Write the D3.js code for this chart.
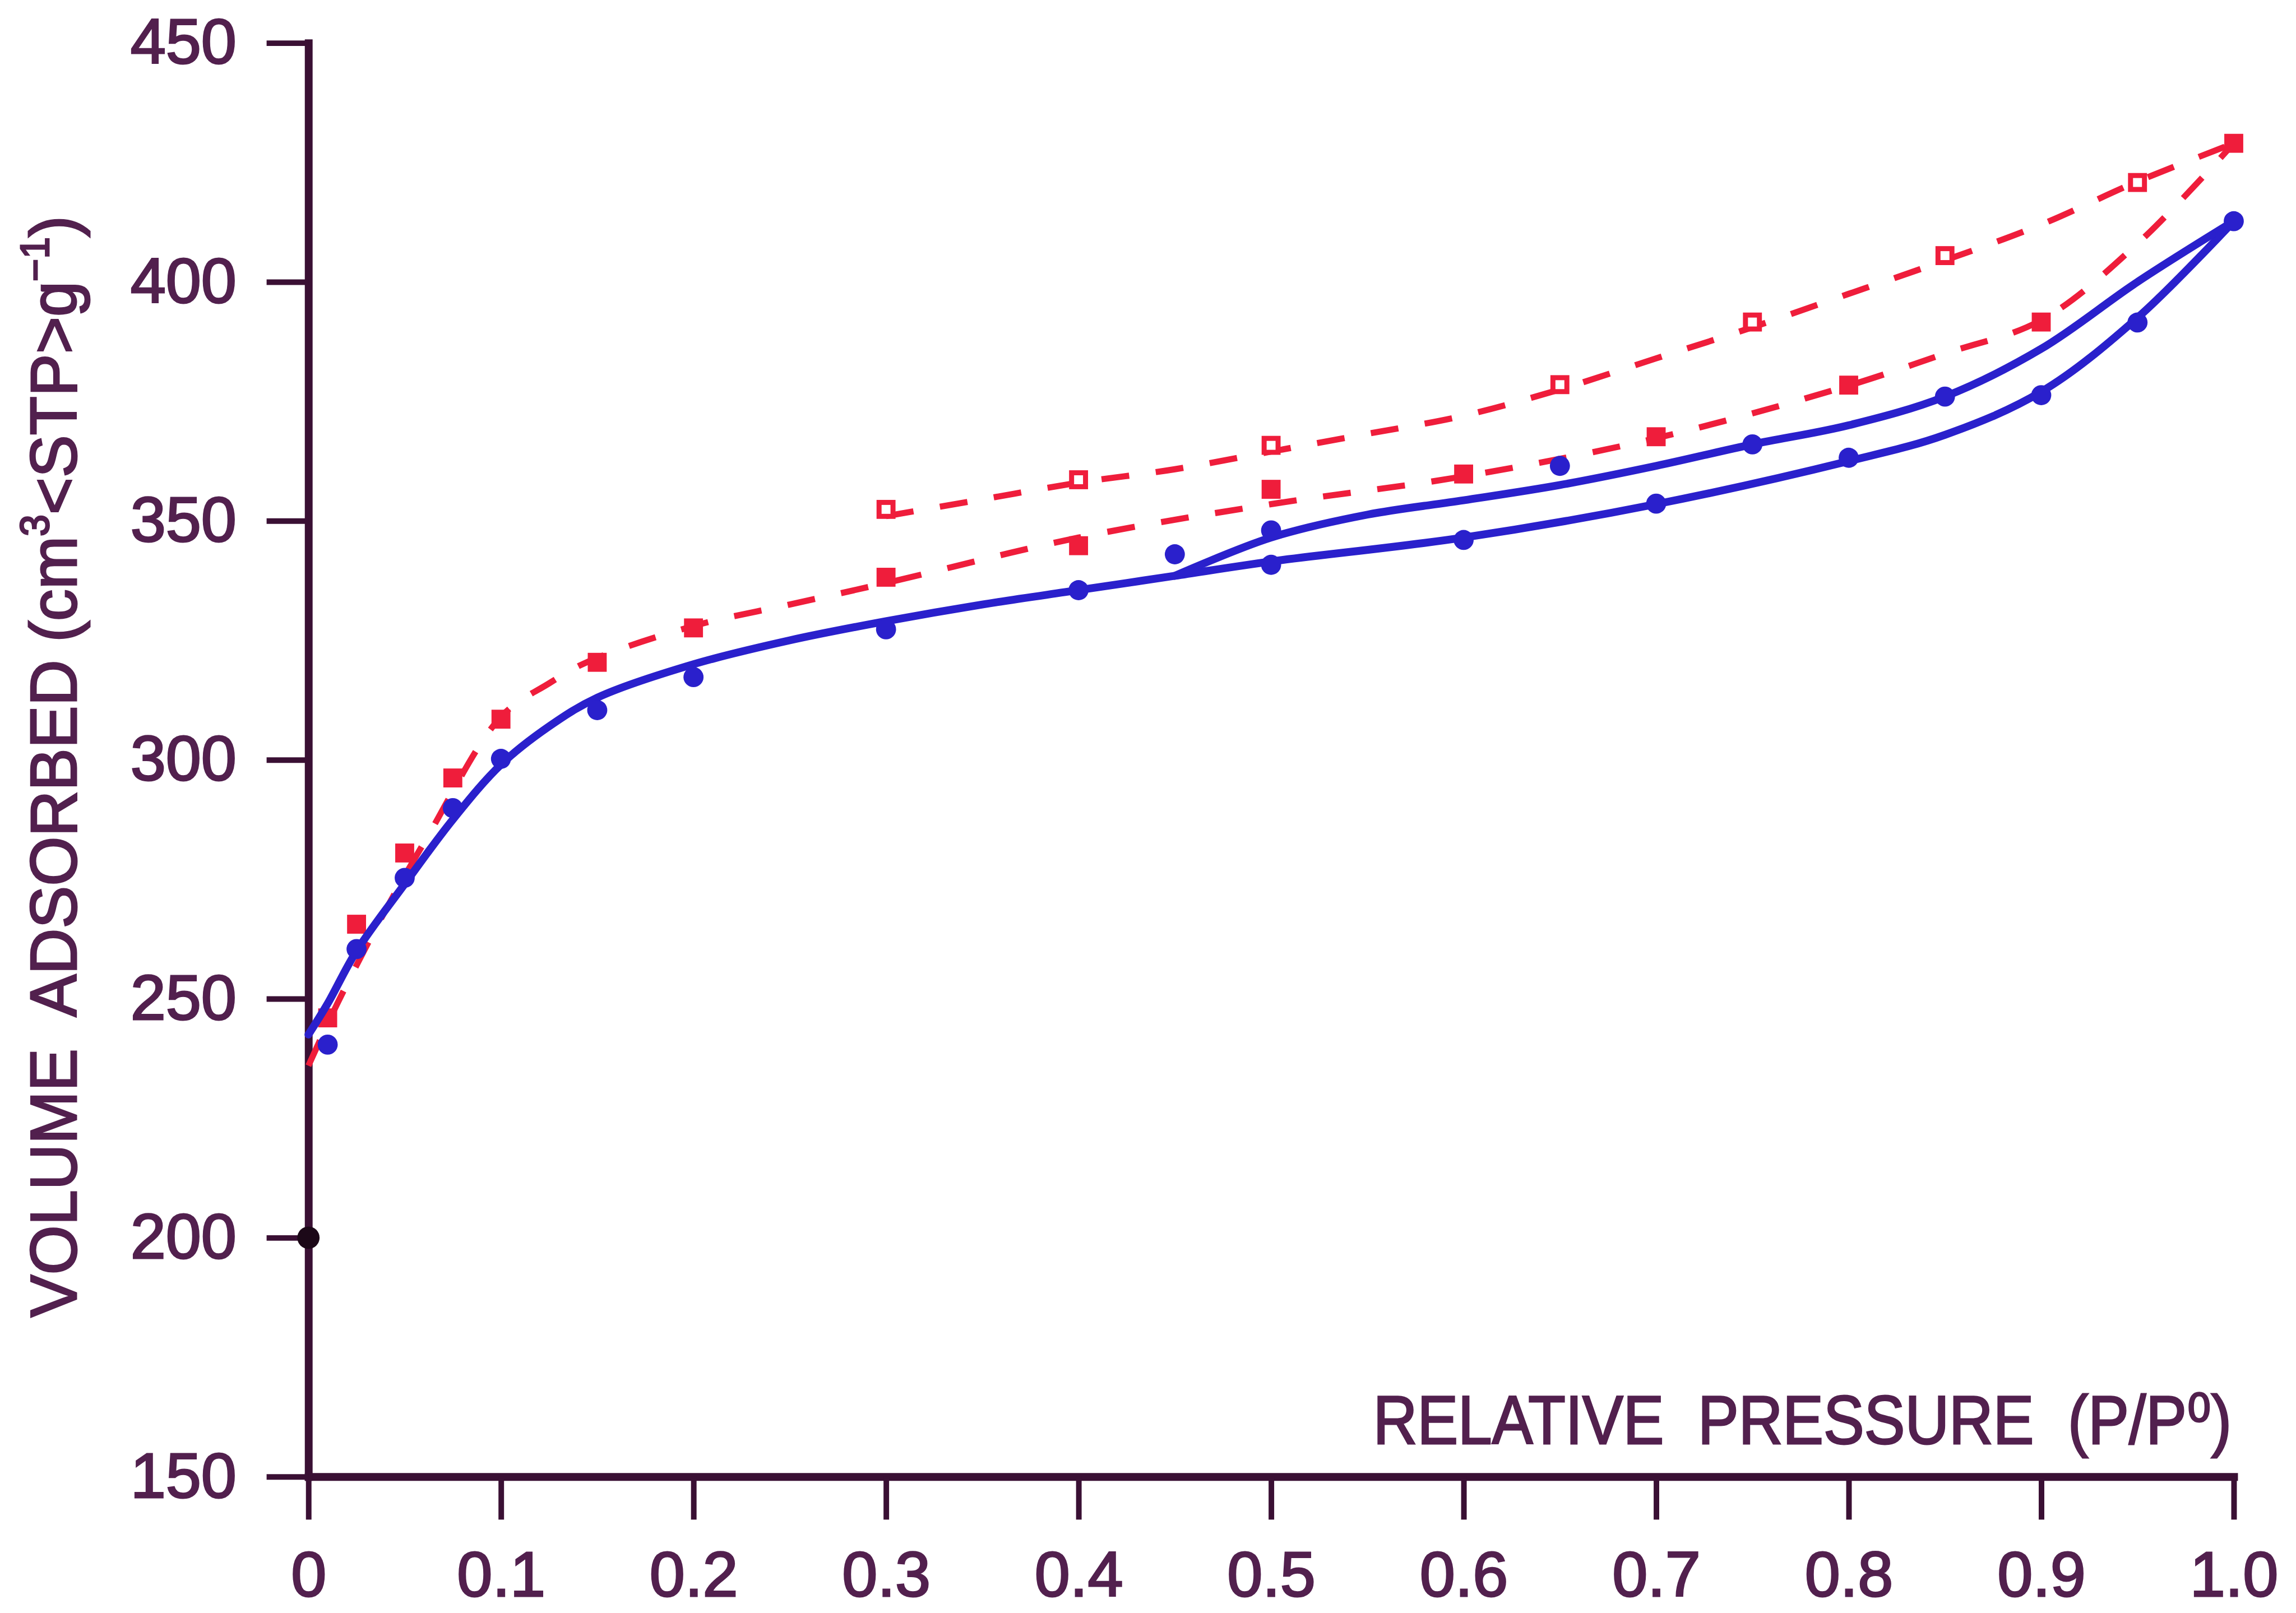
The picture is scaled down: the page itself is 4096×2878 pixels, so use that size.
<!DOCTYPE html>
<html>
<head>
<meta charset="utf-8">
<script src="https://cdn.jsdelivr.net/npm/d3@7"></script>
<style>
  html, body { margin: 0; padding: 0; background: #ffffff; }
  svg { display: block; }
</style>
</head>
<body>
<svg id="chart" width="4096" height="2878"></svg>
<script>
// ---------- data ----------
const xTickValues = [0, 0.1, 0.2, 0.3, 0.4, 0.5, 0.6, 0.7, 0.8, 0.9, 1.0];
const xTickLabels = ["0", "0.1", "0.2", "0.3", "0.4", "0.5", "0.6", "0.7", "0.8", "0.9", "1.0"];
const yTickValues = [150, 200, 250, 300, 350, 400, 450];

// blue filled circles – adsorption branch
const blueAdsP = [0.01, 0.025, 0.05, 0.075, 0.1, 0.15, 0.2, 0.3, 0.4, 0.5, 0.6, 0.7, 0.8, 0.9, 0.95, 1.0];
const blueAdsV = [240.4, 260.4, 275.3, 289.9, 300.2, 310.4, 317.3, 327.3, 335.5, 340.8, 346.0, 353.6, 363.2, 376.3, 391.5, 412.7];
// blue filled circles – desorption branch
const blueDesP = [0.45, 0.5, 0.65, 0.75, 0.85];
const blueDesV = [343.0, 348.0, 361.5, 366.0, 376.0];

// blue solid curves
const blueAdsCurveP = [0, 0.01, 0.025, 0.05, 0.075, 0.1, 0.125, 0.15, 0.2, 0.25, 0.3, 0.35, 0.4, 0.45, 0.5, 0.6, 0.7, 0.8, 0.85, 0.9, 0.95, 1.0];
const blueAdsCurveV = [242.5, 249, 260, 274, 287.5, 299, 307, 313, 320, 325, 329, 332.5, 335.5, 338.5, 341.5, 346.5, 353.5, 362.5, 368, 377, 392.5, 412.7];
const blueDesCurveP = [0.45, 0.5, 0.55, 0.6, 0.65, 0.7, 0.75, 0.8, 0.85, 0.9, 0.95, 1.0];
const blueDesCurveV = [338.5, 346.5, 351.3, 354.3, 357.5, 361.5, 366, 370, 376, 386, 400, 412.7];

// red filled squares – adsorption branch
const redAdsP = [0.01, 0.025, 0.05, 0.075, 0.1, 0.15, 0.2, 0.3, 0.4, 0.5, 0.6, 0.7, 0.8, 0.9, 1.0];
const redAdsV = [246, 265.6, 280.5, 296.2, 308.5, 320.4, 327.6, 338.2, 344.8, 356.6, 359.8, 367.6, 378.4, 391.6, 429];
// red open squares – desorption branch
const redDesP = [0.3, 0.4, 0.5, 0.65, 0.75, 0.85, 0.95];
const redDesV = [352.4, 358.6, 365.8, 378.5, 391.6, 405.5, 420.8];

// red dashed curves
const redAdsCurveP = [0, 0.015, 0.04, 0.062, 0.1, 0.125, 0.145, 0.2, 0.25, 0.3, 0.4, 0.5, 0.6, 0.7, 0.8, 0.85, 0.9, 0.95, 1.0];
const redAdsCurveV = [236, 249, 268.5, 284, 309, 316, 320.5, 328, 332.5, 337, 346.5, 353.5, 359.3, 367.3, 378.3, 385, 392, 408, 429];
const redDesCurveP = [0.3, 0.35, 0.4, 0.45, 0.5, 0.55, 0.6, 0.65, 0.7, 0.75, 0.8, 0.85, 0.9, 0.95, 1.0];
const redDesCurveV = [351, 354.5, 358, 360.8, 364.5, 368.2, 372, 377.5, 384, 390.5, 397.5, 404.5, 412, 421, 429];

// lone dark point on the axis
const axisPointP = [0];
const axisPointV = [200];

// axis titles
const xTitle = "RELATIVE  PRESSURE  (P/P\u2070)";

// ---------- drawing ----------
const zip = (a, b) => a.map((v, i) => [v, b[i]]);
const FONT = "'Liberation Sans', Arial, Helvetica, 'DejaVu Sans', sans-serif";
const AXIS = "#3a1034";
const TEXT = "#52204e";
const BLUE = "#2a20cc";
const RED = "#ef1d3b";

const svg = d3.select("#chart");
const root = svg.append("g").attr("transform", "scale(0.995)");

const x = d3.scaleLinear().domain([0, 1]).range([553, 4005]);
const y = d3.scaleLinear().domain([150, 450]).range([2648, 77]);

// axes
const xAxis = d3.axisBottom(x)
  .tickValues(xTickValues)
  .tickFormat((d, i) => xTickLabels[i])
  .tickSize(77).tickSizeOuter(0).tickPadding(56);
const yAxis = d3.axisLeft(y)
  .tickValues(yTickValues)
  .tickFormat(d3.format("d"))
  .tickSize(75).tickSizeOuter(0).tickPadding(54);

const gx = root.append("g").attr("transform", `translate(0,${y(150)})`).call(xAxis);
const gy = root.append("g").attr("transform", `translate(${x(0)},0)`).call(yAxis);

[gx, gy].forEach(g => {
  g.select(".domain").attr("stroke", AXIS).attr("stroke-width", 14).attr("stroke-linecap", "square");
  g.selectAll(".tick line").attr("stroke", AXIS).attr("stroke-width", 10);
  g.selectAll(".tick text")
    .attr("fill", TEXT)
    .attr("stroke", TEXT)
    .attr("stroke-width", 3)
    .attr("font-family", FONT)
    .attr("font-size", 114);
});

// line generator
const line = d3.line()
  .x(d => x(d[0]))
  .y(d => y(d[1]))
  .curve(d3.curveCatmullRom.alpha(0.5));

// red dashed curves
[zip(redAdsCurveP, redAdsCurveV), zip(redDesCurveP, redDesCurveV)].forEach(pts => {
  root.append("path")
    .attr("d", line(pts))
    .attr("fill", "none")
    .attr("stroke", RED)
    .attr("stroke-width", 11)
    .attr("stroke-dasharray", "50,48");
});

// red squares
const sq = 34;
root.append("g").selectAll("rect")
  .data(zip(redAdsP, redAdsV)).join("rect")
  .attr("x", d => x(d[0]) - sq / 2).attr("y", d => y(d[1]) - sq / 2)
  .attr("width", sq).attr("height", sq)
  .attr("fill", RED);
root.append("g").selectAll("rect")
  .data(zip(redDesP, redDesV)).join("rect")
  .attr("x", d => x(d[0]) - sq / 2 + 4.5).attr("y", d => y(d[1]) - sq / 2 + 4.5)
  .attr("width", sq - 9).attr("height", sq - 9)
  .attr("fill", "#ffffff")
  .attr("stroke", RED).attr("stroke-width", 9);

// blue solid curves
[zip(blueAdsCurveP, blueAdsCurveV), zip(blueDesCurveP, blueDesCurveV)].forEach(pts => {
  root.append("path")
    .attr("d", line(pts))
    .attr("fill", "none")
    .attr("stroke", BLUE)
    .attr("stroke-width", 14)
    .attr("stroke-linecap", "round");
});

// blue circles
root.append("g").selectAll("circle")
  .data(zip(blueAdsP, blueAdsV).concat(zip(blueDesP, blueDesV))).join("circle")
  .attr("cx", d => x(d[0])).attr("cy", d => y(d[1]))
  .attr("r", 18)
  .attr("fill", BLUE);

// dark point on the axis
root.append("g").selectAll("circle")
  .data(zip(axisPointP, axisPointV)).join("circle")
  .attr("cx", d => x(d[0])).attr("cy", d => y(d[1]))
  .attr("r", 20)
  .attr("fill", "#1c0818");

// x-axis title: single text, horizontally condensed to the reference width
const xtG = root.append("g");
const xt = xtG.append("text")
  .attr("x", 0).attr("y", 0)
  .attr("font-family", FONT)
  .attr("font-size", 124)
  .attr("fill", TEXT).attr("stroke", TEXT).attr("stroke-width", 3)
  .style("white-space", "pre")
  .text(xTitle);
const xtLen = xt.node().getComputedTextLength();
xtG.attr("transform", `translate(2462,2589) scale(${1539 / xtLen},1)`);

// y-axis title: rotated, condensed to the reference length
const ytG = root.append("g");
const yt = ytG.append("text")
  .attr("x", 0).attr("y", 0)
  .attr("font-family", FONT)
  .attr("font-size", 118)
  .attr("fill", TEXT).attr("stroke", TEXT).attr("stroke-width", 3)
  .style("white-space", "pre");
yt.append("tspan").text("VOLUME  ADSORBED (cm");
yt.append("tspan").attr("dy", -50).attr("font-size", 72).text("3");
yt.append("tspan").attr("dy", 50).text("<STP>g");
yt.append("tspan").attr("dy", -50).attr("font-size", 72).text("\u22121");
yt.append("tspan").attr("dy", 50).text(")");
const ytLen = yt.node().getComputedTextLength();
ytG.attr("transform", `translate(137,2362) rotate(-90) scale(${1975 / ytLen},1)`);
</script>
</body>
</html>
